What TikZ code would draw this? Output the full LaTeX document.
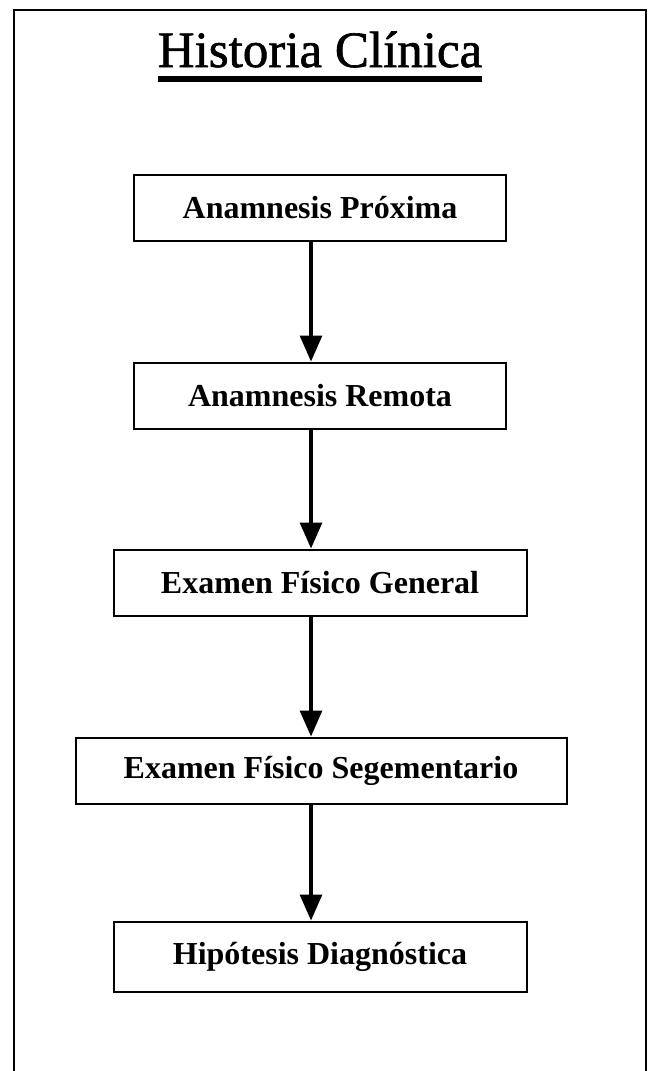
\documentclass[tikz,border=0pt]{standalone}
\usepackage{fontspec}
\setmainfont{Liberation Serif}
\newfontfamily\titlefont[FakeBold=1.2]{Liberation Serif}
\usetikzlibrary{positioning,arrows.meta}

\begin{document}
\begin{tikzpicture}[x=1pt,y=-1pt,
      stage/.style={
        % The shape:
        rectangle,minimum height=66pt,inner sep=0pt,
        % The rest
        line width=2pt,draw=black,fill=white,
        font=\fontsize{32}{38}\selectfont\bfseries},
      flow/.style={line width=3.2pt,-{Triangle[length=26pt,width=22pt]}}]
    \useasboundingbox (0,0) rectangle (649,1071);
    % open frame
    \draw[line width=2pt] (14,1071) -- (14,10) -- (646,10) -- (646,1071);
    \node(ttl)[anchor=base, inner sep=0pt, font=\titlefont\fontsize{51}{60}\selectfont] at (320,67) {Historia Clínica};
    \draw[line width=6pt] ([yshift=-11.5pt]ttl.base west) -- ([yshift=-11.5pt]ttl.base east);
    \coordinate (ax) at (311,0);
    \node(prox)[stage, minimum width=372pt] at (320,207.5) {Anamnesis Próxima};
    \node(rem)[stage, minimum width=372pt, below=120pt, at=(prox.south)]{Anamnesis Remota};
    \path (prox.south -| ax) edge[flow] (rem.north -| ax);
    \node(gen)[stage, minimum width=413pt, below=119pt, at=(rem.south)]{Examen Físico General};
    \path (rem.south -| ax) edge[flow] (gen.north -| ax);
    \node(seg)[stage, minimum width=491pt, below=120pt, at=(gen.south), xshift=1pt]{Examen Físico Segementario};
    \path (gen.south -| ax) edge[flow] (seg.north -| ax);
    \node(hip)[stage, minimum width=413pt, minimum height=70pt, below=116pt, at=(seg.south), xshift=-1pt]{Hipótesis Diagnóstica};
    \path (seg.south -| ax) edge[flow] (hip.north -| ax);

  \end{tikzpicture}
\end{document}
